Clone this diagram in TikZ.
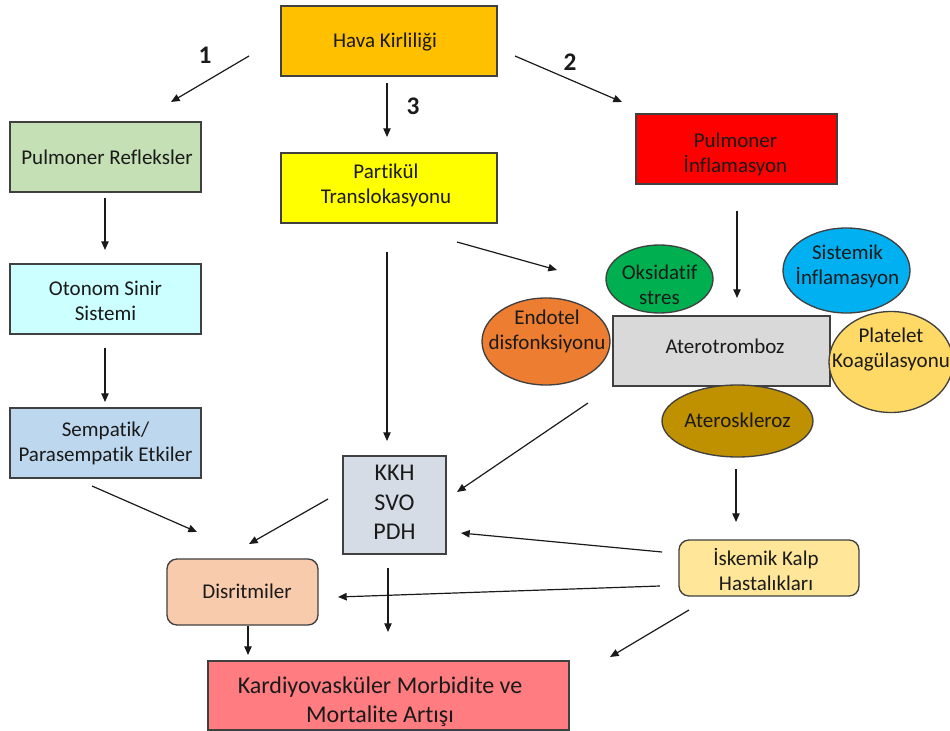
\documentclass[tikz,border=0pt]{standalone}
\usepackage{fontspec}
\setmainfont{Carlito}[Ligatures=NoCommon]
\usetikzlibrary{shapes.geometric,arrows.meta}
\definecolor{edge}{HTML}{404040}
\definecolor{ink}{HTML}{1A1A1A}
\definecolor{cHava}{HTML}{FFC000}
\definecolor{cRefl}{HTML}{C5E0B4}
\definecolor{cPart}{HTML}{FFFF00}
\definecolor{cInfl}{HTML}{FF0000}
\definecolor{cOton}{HTML}{CCFFFF}
\definecolor{cSemp}{HTML}{BDD7EE}
\definecolor{cKKH}{HTML}{D6DCE5}
\definecolor{cDisr}{HTML}{F8CBAD}
\definecolor{cKard}{HTML}{FF7C80}
\definecolor{cIske}{HTML}{FFE699}
\definecolor{cAtro}{HTML}{D9D9D9}
\definecolor{cOks}{HTML}{00B050}
\definecolor{cEndo}{HTML}{ED7D31}
\definecolor{cSist}{HTML}{00B0F0}
\definecolor{cPlat}{HTML}{FFD966}
\definecolor{cAter}{HTML}{BF9000}
\begin{document}
\begin{tikzpicture}[x=0.75pt,y=-0.75pt,
  box/.style={draw=edge, line width=1pt, rectangle, inner sep=0pt},
  ell/.style={draw=edge, line width=1pt, ellipse, inner sep=0pt},
  txt/.style={font=\fontsize{15.75}{18.75}\selectfont, align=center, text=ink, inner sep=0pt},
  big/.style={font=\fontsize{18}{22}\selectfont, align=center, text=ink, inner sep=0pt},
  num/.style={font=\fontsize{19}{22}\selectfont\bfseries, text=ink, inner sep=0pt},
  arr/.style={draw=ink, line width=0.9pt, -{Triangle[length=6.5pt,width=5.5pt]}},
]
\useasboundingbox (0,0) rectangle (950,731);
% boxes
\node[box, fill=cHava, minimum width=162pt, minimum height=52.5pt,
  label={[txt, shift={(-4,1)}]center:Hava Kirliliği}] (hava) at (389,41) {};
\node[box, fill=cRefl, minimum width=143.25pt, minimum height=52.5pt,
  label={[txt, shift={(1.5,0)}]center:Pulmoner Refleksler}] (refl) at (105.5,157) {};
\node[box, fill=cPart, minimum width=162pt, minimum height=52.5pt,
  label={[txt, shift={(-3,-3)}]center:Partikül\\Translokasyonu}] (part) at (389,188) {};
\node[box, fill=cInfl, minimum width=150.75pt, minimum height=52.5pt,
  label={[txt, shift={(-1,5)}]center:Pulmoner\\İnflamasyon}] (infl) at (736.5,149) {};
\node[box, fill=cOton, minimum width=143.25pt, minimum height=52.5pt,
  label={[txt, shift={(0,1.5)}]center:Otonom Sinir\\Sistemi}] (oton) at (105.5,299) {};
\node[box, fill=cSemp, minimum width=143.25pt, minimum height=52.5pt,
  label={[txt, shift={(0,0.5)}]center:Sempatik/\\Parasempatik Etkiler}] (semp) at (105.5,443) {};
\node[box, fill=cKKH, minimum width=77.25pt, minimum height=73.5pt,
  label={[big, shift={(0,-2.5)}]center:KKH\\SVO\\PDH}] (kkh) at (394.5,505) {};
\node[box, fill=cDisr, rounded corners=7.5pt, minimum width=113.25pt, minimum height=49.5pt,
  label={[txt, shift={(4.5,-1)}]center:Disritmiler}] (disr) at (242.5,592) {};
\node[box, fill=cKard, minimum width=270.75pt, minimum height=51.75pt,
  label={[big, shift={(-8.5,6)}]center:Kardiyovasküler Morbidite ve\\Mortalite Artışı}] (kard) at (388.5,695.5) {};
\node[box, fill=cIske, rounded corners=7.5pt, minimum width=135pt, minimum height=42pt,
  label={[txt, shift={(-3,1.5)}]center:İskemik Kalp\\Hastalıkları}] (iske) at (769,568) {};
\node[box, fill=cAtro, minimum width=162.75pt, minimum height=52.5pt,
  label={[txt, shift={(3.5,-5)}]center:Aterotromboz}] (atro) at (721.5,351) {};
% ellipses
\node[ell, fill=cOks, minimum width=80.25pt, minimum height=51pt,
  label={[txt, shift={(0,5.5)}]center:Oksidatif\\stres}] (oks) at (659.5,279) {};
\node[ell, fill=cEndo, minimum width=96pt, minimum height=65.25pt,
  label={[txt, shift={(1,-10)}]center:Endotel\\disfonksiyonu}] (endo) at (546,341.5) {};
\node[ell, fill=cSist, minimum width=95.25pt, minimum height=63.75pt,
  label={[txt, shift={(1,-4)}]center:Sistemik\\İnflamasyon}] (sist) at (846.5,270.5) {};
\node[ell, fill=cPlat, minimum width=93pt, minimum height=75.75pt,
  label={[txt, shift={(0,-12)}]center:Platelet\\Koagülasyonu}] (plat) at (891,362) {};
\node[ell, fill=cAter, minimum width=113.25pt, minimum height=54pt,
  label={[txt, shift={(0,-1)}]center:Ateroskleroz}] (ater) at (737.5,421) {};
% numbers
\node[num] (n1) at (205,55) {1};
\node[num] (n2) at (570,62) {2};
\node[num] (n3) at (413,106) {3};
% arrows
\draw[arr] ([shift={(-140,15)}]hava.center) -- ([shift={(65.5,-55)}]refl.center);
\draw[arr] ([shift={(126,15)}]hava.center) -- ([shift={(-114.5,-47)}]infl.center);
\draw[arr] ([shift={(-2,42)}]hava.center) -- ([shift={(-2,-51)}]part.center);
\draw[arr] ([shift={(-0.5,41)}]refl.center) -- ([shift={(-0.5,-49)}]oton.center);
\draw[arr] ([shift={(-0.5,49)}]oton.center) -- ([shift={(-0.5,-41)}]semp.center);
\draw[arr] ([shift={(-13.5,43)}]semp.center) -- ([shift={(-45.5,-60)}]disr.center);
\draw[arr] ([shift={(68,54)}]part.center) -- ([shift={(-102.5,-9)}]oks.center);
\draw[arr] ([shift={(-2,64)}]part.center) -- ([shift={(-7.5,-64)}]kkh.center);
\draw[arr] ([shift={(0.5,62)}]infl.center) -- ([shift={(15.5,-53)}]atro.center);
\draw[arr] ([shift={(42,61.5)}]endo.center) -- ([shift={(62.5,-13)}]kkh.center);
\draw[arr] ([shift={(-66.5,-6)}]kkh.center) -- ([shift={(6.5,-48)}]disr.center);
\draw[arr] ([shift={(-107,-16)}]iske.center) -- ([shift={(66.5,28)}]kkh.center);
\draw[arr] ([shift={(-109,18)}]iske.center) -- ([shift={(95.5,5)}]disr.center);
\draw[arr] ([shift={(-6.5,63)}]kkh.center) -- ([shift={(-0.5,-63.5)}]kard.center);
\draw[arr] ([shift={(5.5,34)}]disr.center) -- ([shift={(-140.5,-40.5)}]kard.center);
\draw[arr] ([shift={(-80,42)}]iske.center) -- ([shift={(221.5,-38.5)}]kard.center);
\draw[arr] ([shift={(-1.5,48)}]ater.center) -- ([shift={(-33,-46)}]iske.center);
\end{tikzpicture}
\end{document}
